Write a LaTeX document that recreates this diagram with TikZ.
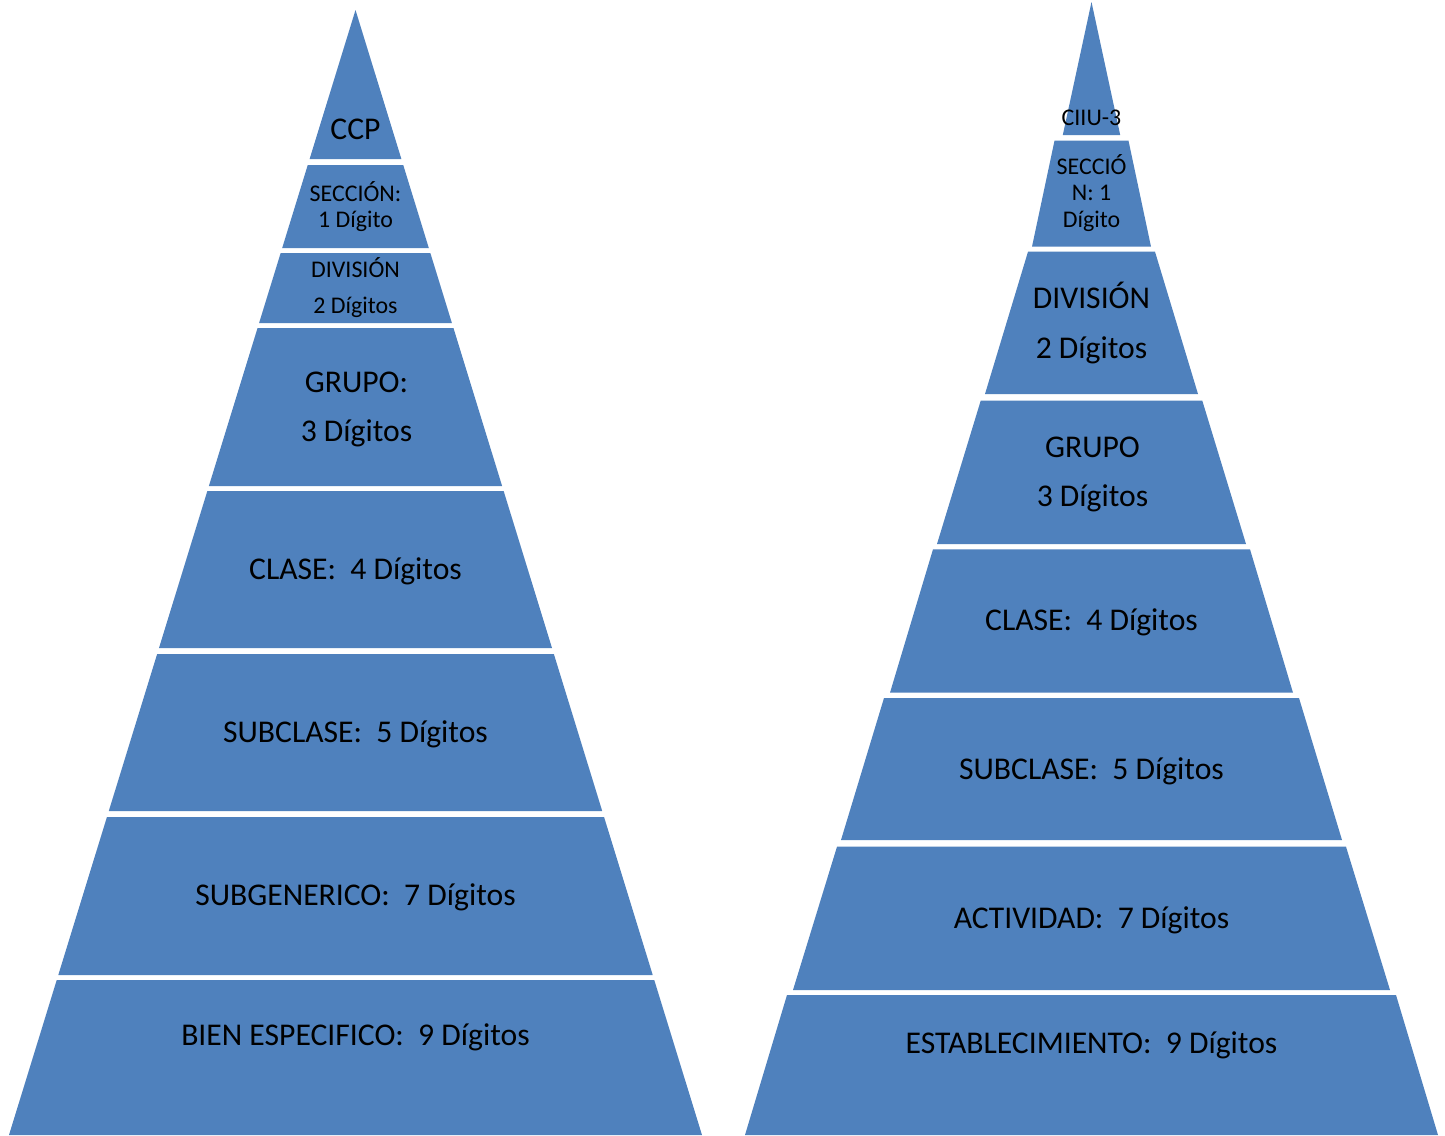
\documentclass[tikz,border=0pt]{standalone}
\usepackage{fontspec}
\setmainfont{Carlito}
\usetikzlibrary{positioning}
\definecolor{PyrBlue}{HTML}{4F81BD}

\begin{document}
\begin{tikzpicture}[
    x=0.01cm,y=-0.01cm,
    layer/.style={fill=PyrBlue},
    biglbl/.style={inner sep=0pt,align=center,
      font=\fontsize{9}{13.9}\selectfont},
    smalllbl/.style={inner sep=0pt,align=center,
      font=\fontsize{6.8}{10.2}\selectfont}
  ]
  \fill[white] (0,0) rectangle (1445,1135);
  \useasboundingbox (0,0) rectangle (1445,1135);

  % left pyramid: CCP
  \foreach \yt/\yb in {10/159,165/248,253/323,328/486,491/648,654/811,817/975,980/1135}
    \fill[layer] ({355.5-0.308*(\yt-10)},\yt) -- ({355.5+0.308*(\yt-10)},\yt)
      -- ({355.5+0.308*(\yb-10)},\yb) -- ({355.5-0.308*(\yb-10)},\yb) -- cycle;

  % right pyramid: CIIU-3
  \foreach \yt/\yb/\wt/\wb in {2/135/0/28.7,140.7/246.7/37/59.5,251.7/394/63.5/106.5,
      400.7/544/110.8/154.5,549.3/692.7/158.5/201.5,698/840/207.5/250.5,
      846.7/990/254.5/298.5,995/1135/304.5/346.5}
    \fill[layer] ({1091.5-\wt},\yt) -- ({1091.5+\wt},\yt)
      -- ({1091.5+\wb},\yb) -- ({1091.5-\wb},\yb) -- cycle;

  % labels, left
  \node[biglbl,anchor=base] (ccp) at (355.5,139) {CCP};
  \node[smalllbl,font=\fontsize{6.8}{7.4}\selectfont] (seccionL) at (355.5,206.5)
    {SECCIÓN:\\1 Dígito};
  \node[smalllbl] (divisionL) at (355.5,287.5) {DIVISIÓN\\2 Dígitos};
  \node[biglbl] (grupoL) at (356.5,409.8) {GRUPO:\\3 Dígitos};
  \node[biglbl,anchor=base] (claseL) at (355.5,579) {CLASE:\ \ 4 Dígitos};
  \node[biglbl,anchor=base] (subclaseL) at (355.5,742) {SUBCLASE:\ \ 5 Dígitos};
  \node[biglbl,anchor=base] (subgenerico) at (355.5,905) {SUBGENERICO:\ \ 7 Dígitos};
  \node[biglbl,anchor=base] (bien) at (355.5,1045) {BIEN ESPECIFICO:\ \ 9 Dígitos};

  % labels, right
  \node[smalllbl,anchor=base] (ciiu) at (1091.5,125.5) {CIIU-3};
  \node[smalllbl,font=\fontsize{6.8}{7.5}\selectfont] (seccionR) at (1091.5,193)
    {SECCIÓ\\N: 1\\Dígito};
  \node[biglbl,font=\fontsize{9}{14.2}\selectfont] (divisionR) at (1091.5,322.8)
    {DIVISIÓN\\2 Dígitos};
  \node[biglbl] (grupoR) at (1092.5,474.8) {GRUPO\\3 Dígitos};
  \node[biglbl,anchor=base] (claseR) at (1091.5,630) {CLASE:\ \ 4 Dígitos};
  \node[biglbl,anchor=base] (subclaseR) at (1091.5,779) {SUBCLASE:\ \ 5 Dígitos};
  \node[biglbl,anchor=base] (actividad) at (1091.5,928) {ACTIVIDAD:\ \ 7 Dígitos};
  \node[biglbl,anchor=base] (establecimiento) at (1091.5,1053)
    {ESTABLECIMIENTO:\ \ 9 Dígitos};
\end{tikzpicture}
\end{document}
